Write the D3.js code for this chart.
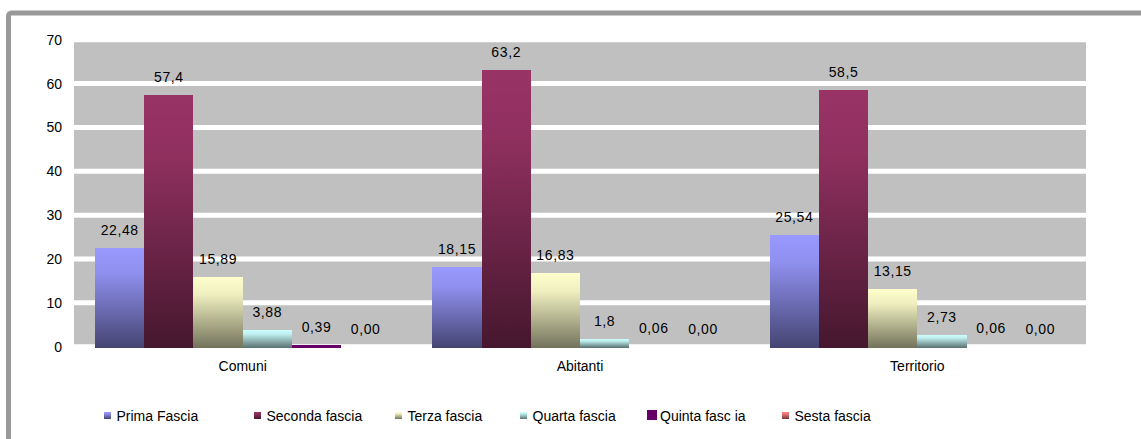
<!DOCTYPE html>
<html>
<head>
<meta charset="utf-8">
<script src="https://cdn.jsdelivr.net/npm/d3@7/dist/d3.min.js"></script>
<style>
  html, body { margin: 0; padding: 0; background: #ffffff; }
  svg { display: block; }
  text { font-family: "Liberation Sans", Arial, sans-serif; fill: #000; }
</style>
</head>
<body>
<svg id="chart" width="1141" height="439"></svg>
<script>
// Categories and series (values kept as written so labels keep their decimals)
const categories = ["Comuni", "Abitanti", "Territorio"];
const seriesNames = ["Prima Fascia", "Seconda fascia", "Terza fascia", "Quarta fascia", "Quinta fasc ia", "Sesta fascia"];
const primaFascia   = ["22.48", "18.15", "25.54"];
const secondaFascia = ["57.4",  "63.2",  "58.5"];
const terzaFascia   = ["15.89", "16.83", "13.15"];
const quartaFascia  = ["3.88",  "1.8",   "2.73"];
const quintaFascia  = ["0.39",  "0.06",  "0.06"];
const sestaFascia   = ["0.00",  "0.00",  "0.00"];
const yTicks = [0, 10, 20, 30, 40, 50, 60, 70];

const seriesValues = [primaFascia, secondaFascia, terzaFascia, quartaFascia, quintaFascia, sestaFascia];
const seriesColors = ["#9999ff", "#993366", "#ffffcc", "#ccffff", "#660066", "#ff8080"];

const svg = d3.select("#chart");

// outer frame
svg.append("rect")
  .attr("x", 8.5).attr("y", 13)
  .attr("width", 1300).attr("height", 600)
  .attr("rx", 3)
  .attr("fill", "#ffffff")
  .attr("stroke", "#999999")
  .attr("stroke-width", 5);

const plot = { left: 74, right: 1086 };

const y = d3.scaleLinear().domain([0, 70]).range([346.7, 39.75]);
const x0 = d3.scaleBand().domain(categories).range([plot.left, plot.right])
  .paddingInner(0.125).paddingOuter(0.0625);
const x1 = d3.scaleBand().domain(d3.range(seriesNames.length)).range([0, x0.bandwidth()]);

// gradients: full colour at top shading darker toward the base
const defs = svg.append("defs");
seriesColors.forEach((c, i) => {
  const g = defs.append("linearGradient")
    .attr("id", "grad" + i)
    .attr("x1", 0).attr("y1", 0).attr("x2", 0).attr("y2", 1);
  const dark = d3.interpolateRgb(c, "#000000")(0.55);
  g.append("stop").attr("offset", "0%").attr("stop-color", c);
  g.append("stop").attr("offset", "25%").attr("stop-color", d3.interpolateRgb(c, dark)(0.12));
  g.append("stop").attr("offset", "100%").attr("stop-color", dark);
});

// plot background
svg.append("rect")
  .attr("x", plot.left).attr("y", y(70))
  .attr("width", plot.right - plot.left).attr("height", y(0) - y(70))
  .attr("fill", "#c0c0c0");

// gridlines (white bands)
svg.append("g").selectAll("line").data(yTicks).join("line")
  .attr("x1", plot.left).attr("x2", plot.right)
  .attr("y1", d => y(d)).attr("y2", d => y(d))
  .attr("stroke", "#ffffff").attr("stroke-width", 5);

// y axis labels
const yAxis = d3.axisLeft(y).tickValues(yTicks).tickSize(0).tickPadding(0);
const yg = svg.append("g").attr("transform", "translate(62,0)").call(yAxis);
yg.select(".domain").remove();
yg.selectAll("text").attr("font-size", 14).attr("font-family", "Liberation Sans, Arial, sans-serif").attr("fill", "#000");

// bars (columns under one pixel tall are not drawn)
const groups = svg.append("g").selectAll("g").data(categories).join("g")
  .attr("transform", d => `translate(${x0(d)},0)`);

groups.each(function(cat, ci) {
  const g = d3.select(this);
  const rows = seriesValues.map((arr, si) => ({ si, label: arr[ci], value: +arr[ci] }));
  g.selectAll("rect").data(rows.filter(r => y(0) - y(r.value) >= 1)).join("rect")
    .attr("shape-rendering", "crispEdges")
    .attr("x", r => x1(r.si))
    .attr("width", x1.bandwidth())
    .attr("y", r => y(r.value))
    .attr("height", r => y(0) + 1 - y(r.value))
    .attr("fill", r => r.si === 4 ? seriesColors[4] : `url(#grad${r.si})`);
  g.selectAll("text").data(rows).join("text")
    .attr("x", r => x1(r.si) + x1.bandwidth() / 2)
    .attr("y", r => y(r.value) - 13)
    .attr("text-anchor", "middle")
    .attr("font-size", 14)
    .attr("letter-spacing", 0.6)
    .text(r => r.label.replace(".", ","));
});

// category axis labels
const xAxis = d3.axisBottom(x0).tickSize(0).tickPadding(0);
const xg = svg.append("g").attr("transform", "translate(0,371)").call(xAxis);
xg.select(".domain").remove();
xg.selectAll("text").attr("font-size", 14).attr("font-family", "Liberation Sans, Arial, sans-serif")
  .attr("fill", "#000").attr("dy", 0);

// legend
const legendX = [104, 254, 395, 520, 647, 782];
const legend = svg.append("g").selectAll("g").data(seriesNames).join("g")
  .attr("transform", (d, i) => `translate(${legendX[i]},0)`);
legend.append("rect")
  .attr("x", 0)
  .attr("y", (d, i) => i === 4 ? 410 : 412)
  .attr("width", (d, i) => i === 4 ? 10 : 7)
  .attr("height", (d, i) => i === 4 ? 10 : 7)
  .attr("fill", (d, i) => i === 4 ? seriesColors[4] : `url(#grad${i})`);
legend.append("text")
  .attr("x", (d, i) => i === 4 ? 13 : 12.5)
  .attr("y", 421)
  .attr("font-size", 14)
  .text(d => d);
</script>
</body>
</html>
